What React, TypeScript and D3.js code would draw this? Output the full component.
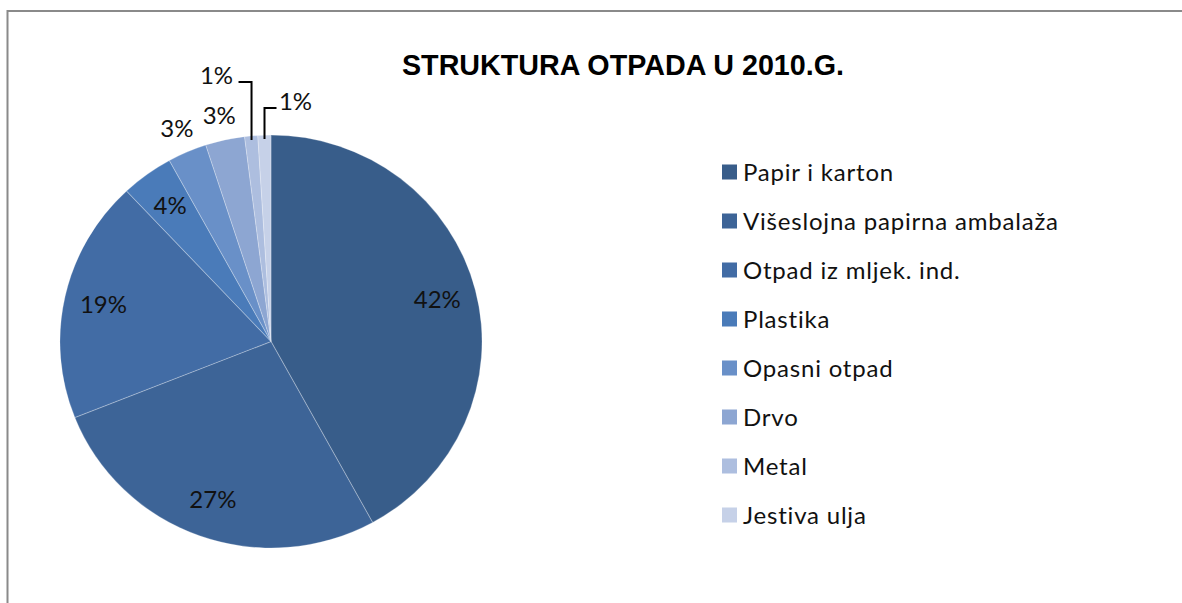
import React from "react";
import * as d3 from "d3";

const categories = [
  "Papir i karton",
  "Višeslojna papirna ambalaža",
  "Otpad iz mljek. ind.",
  "Plastika",
  "Opasni otpad",
  "Drvo",
  "Metal",
  "Jestiva ulja",
];
const values = [42, 27, 19, 4, 3, 3, 1, 1];
const colors = [
  "#385D8A",
  "#3D6497",
  "#426CA5",
  "#4A7BB9",
  "#6990C8",
  "#8DA6D2",
  "#ADBEDF",
  "#C6D1E8",
];
const title = "STRUKTURA OTPADA U 2010.G.";

const W = 1182;
const H = 603;

export default function App() {
  const cx = 271;
  const cy = 341.5;
  const r = 206.5;
  const sx = 211 / 206.5;

  const pie = d3
    .pie<number>()
    .sort(null)
    .value((d) => d)
    .startAngle(0)
    .endAngle(2 * Math.PI);
  const arcs = pie(values);
  const arc = d3.arc<d3.PieArcDatum<number>>().innerRadius(0).outerRadius(r);

  const total = d3.sum(values);
  const fmt = (v: number) => `${Math.round((v / total) * 100)}%`;

  const pos = (a: d3.PieArcDatum<number>, rad: number) => {
    const ang = (a.startAngle + a.endAngle) / 2;
    return [cx + Math.sin(ang) * rad * sx, cy - Math.cos(ang) * rad];
  };

  const labelFont = "Lato, 'Open Sans', sans-serif";
  const fs = 24;

  const labels = arcs.map((a, i) => {
    const pct = a.data / total;
    if (pct >= 0.035) {
      const [x, y] = pos(a, 168);
      return (
        <text key={i} x={x} y={y} dy="0.36em" textAnchor="middle" fontSize={fs} fontFamily={labelFont} fill="#111">
          {fmt(a.data)}
        </text>
      );
    }
    if (pct >= 0.02) {
      const [x, y] = pos(a, 232);
      return (
        <text key={i} x={x} y={y} dy="0.36em" textAnchor="middle" fontSize={fs} fontFamily={labelFont} fill="#111">
          {fmt(a.data)}
        </text>
      );
    }
    // callout with leader line
    const [ex, ey] = pos(a, r - 4);
    const left = i === 6;
    const topY = left ? 82 : 108;
    const hx = left ? ex - 13 : ex + 12;
    const tx = left ? hx - 22 : hx + 19;
    return (
      <g key={i}>
        <path d={`M${ex},${ey} L${ex},${topY} L${hx},${topY}`} fill="none" stroke="#000" strokeWidth={2} />
        <text x={tx} y={topY} dy="0.1em" textAnchor="middle" fontSize={fs} fontFamily={labelFont} fill="#111">
          {fmt(a.data)}
        </text>
      </g>
    );
  });

  const legendY = d3
    .scalePoint<string>()
    .domain(categories)
    .range([172, 515]);

  return (
    <svg width={W} height={H} style={{ position: "absolute", left: 0, top: 0, background: "#fff" }}>
      <rect x={0} y={0} width={W} height={H} fill="#fff" />
      <path d={`M7.5,${H} L7.5,11 L${W},11`} fill="none" stroke="#8a8a8a" strokeWidth={2} />
      <text
        x={623}
        y={75}
        textAnchor="middle"
        fontSize={28.7}
        fontWeight="bold"
        fontFamily="'Liberation Sans', Arial, sans-serif"
        fill="#000"
      >
        {title}
      </text>
      <g transform={`translate(${cx},${cy}) scale(${sx},1)`}>
        {arcs.map((a, i) => (
          <path key={i} d={arc(a) || ""} fill={colors[i]} stroke="#ffffff" strokeOpacity={0.25} strokeWidth={1} />
        ))}
      </g>
      {labels}
      <g>
        {categories.map((c, i) => (
          <g key={c} transform={`translate(722,${legendY(c)})`}>
            <rect x={0} y={-7.5} width={15} height={15} fill={colors[i]} />
            <text x={21} y={0} dy="0.36em" fontSize={fs} letterSpacing={0.8} fontFamily={labelFont} fill="#111">
              {c}
            </text>
          </g>
        ))}
      </g>
    </svg>
  );
}
